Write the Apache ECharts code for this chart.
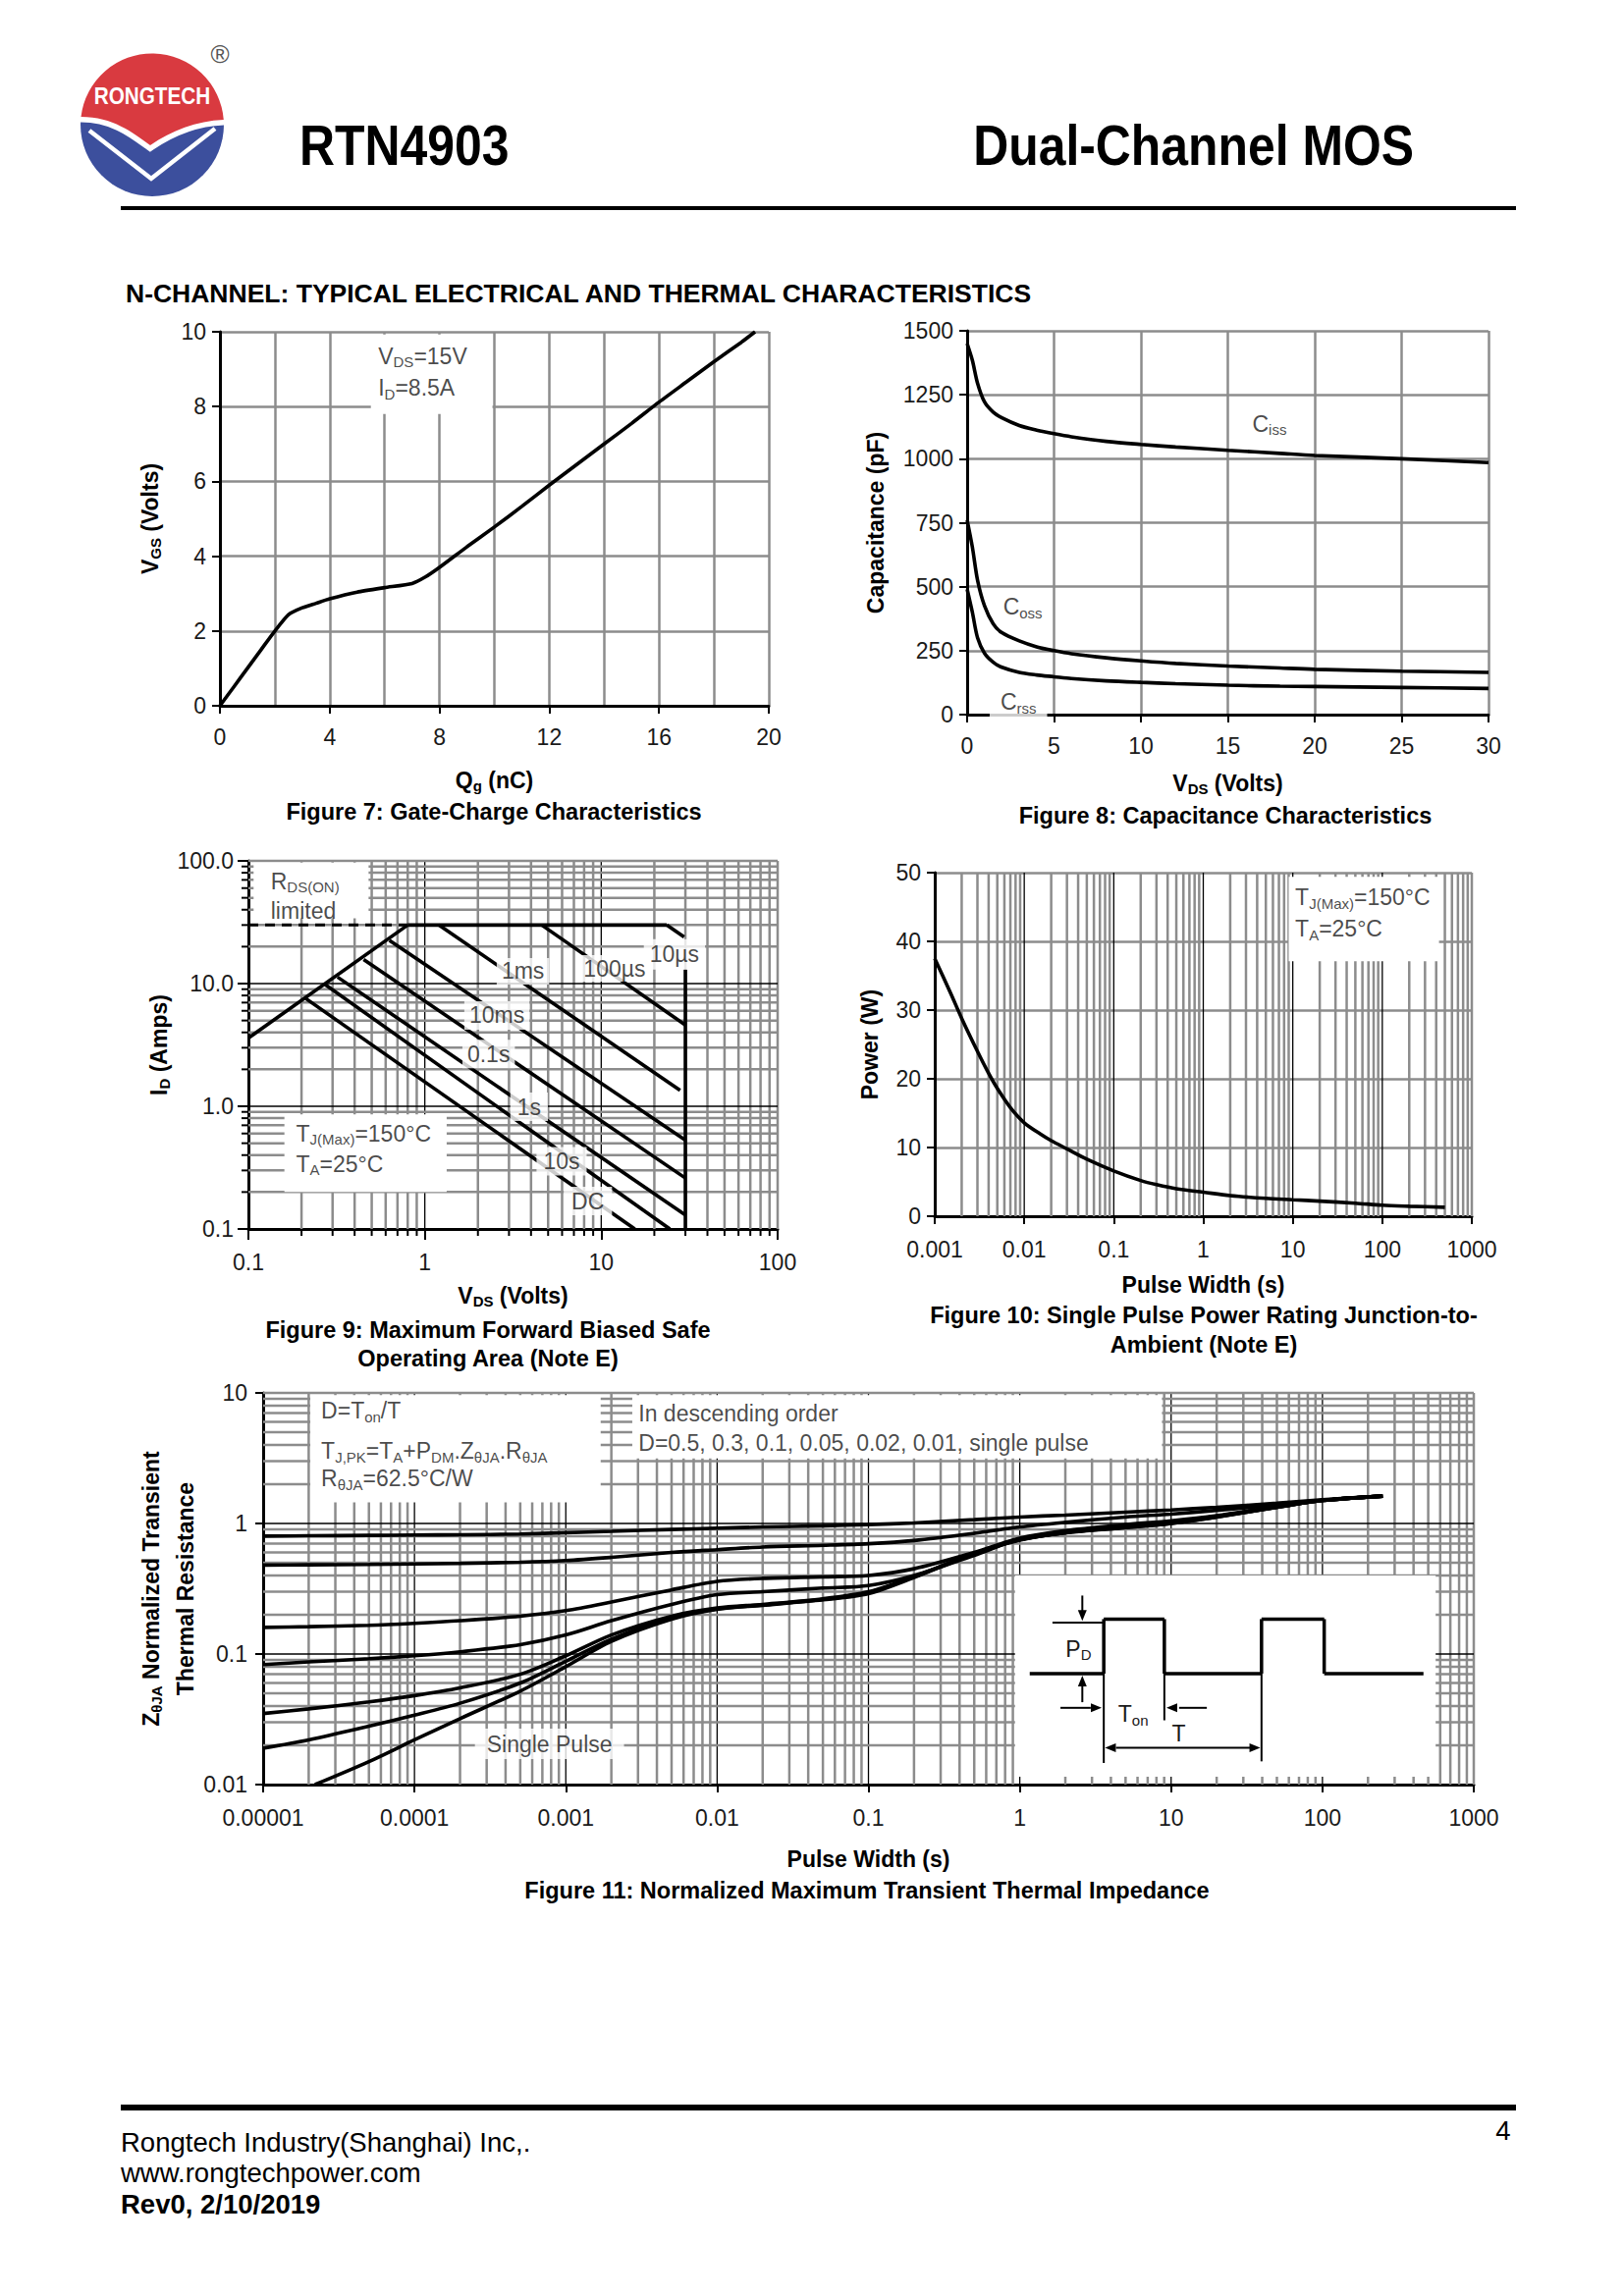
<!DOCTYPE html>
<html>
<head>
<meta charset="utf-8">
<script src="https://cdn.jsdelivr.net/npm/echarts@6/dist/echarts.min.js"></script>
<style>html,body{margin:0;padding:0;background:#fff}#c{width:1654px;height:2339px}#logo{position:absolute;left:0;top:0}</style>
</head>
<body>
<div id="c"></div>
<svg id="logo" width="260" height="220" viewBox="0 0 260 220" xmlns="http://www.w3.org/2000/svg">
  <g transform="translate(155,127)">
    <circle cx="0" cy="0" r="73" fill="#3c4f9d"/>
    <path d="M -72.5 -8 A 73 73 0 0 1 72.8 -5 C 45 -4 20 6 -2 21 C -20 8 -40 -8 -72.5 -8 Z" fill="none" stroke="#fff" stroke-width="11"/>
    <path d="M -72.5 -8 A 73 73 0 0 1 72.8 -5 C 45 -4 20 6 -2 21 C -20 8 -40 -8 -72.5 -8 Z" fill="#d93a40"/>
    <polyline points="-64,6 -1,55 64,4" fill="none" stroke="#fff" stroke-width="4.5"/>
    <text x="0" y="-27" transform="scale(0.9,1)" font-family="Liberation Sans, Arial, sans-serif" font-weight="bold" font-size="23" fill="#fff" text-anchor="middle" dominant-baseline="middle">RONGTECH</text>
  </g>
  <text x="224" y="57" font-family="Liberation Sans, Arial, sans-serif" font-size="26" fill="#555" text-anchor="middle" dominant-baseline="middle">®</text>
</svg>
<script>
// ---------------- DATA ----------------
// Figure 7: gate charge
const gateChargeQg  = [0,0.5,1,1.5,2,2.5,3,3.5,4,5,6,7,7.5,8,9,10,11,12,13,14,15,16,17,18,19,19.5];
const gateChargeVgs = [0,0.5,1.0,1.5,2.0,2.44,2.62,2.74,2.86,3.04,3.16,3.27,3.45,3.7,4.25,4.78,5.33,5.9,6.45,7.0,7.55,8.12,8.66,9.2,9.72,10.0];
// Figure 8: capacitance
const capVds  = [0,0.3,0.6,1,1.5,2,3,4,5,6,8,10,12,15,18,20,25,30];
const capCiss = [1450,1385,1295,1222,1182,1160,1130,1112,1098,1086,1068,1056,1046,1033,1021,1013,1000,985];
const capCoss = [760,655,525,425,355,320,288,265,250,238,222,210,200,190,182,177,170,165];
const capCrss = [490,400,300,240,205,185,165,155,148,141,132,126,121,115,111,110,106,102];
// Figure 9: SOA boundaries [VDS, ID]
const soaRdsOn        = [[0.1,3.6],[0.8,30]];
const soaRdsOnDashed  = [[0.1,30],[0.8,30]];
const soaCurrentLimit = [[0.8,30],[23.5,30]];
const soa10us  = [[23.5,30],[29.5,24]];
const soaBvdss = [[30,13],[30,0.1]];
const soa100us = [[4.6,30],[30,4.6]];
const soa1ms   = [[1.2,30],[28,1.35]];
const soa10ms  = [[0.63,22.5],[30,0.53]];
const soa100ms = [[0.45,15.7],[30,0.26]];
const soa1s    = [[0.32,11.3],[30,0.13]];
const soa10s   = [[0.27,9.9],[24.5,0.1]];
const soaDC    = [[0.21,7.6],[15.5,0.1]];
// Figure 10: single pulse power
const pulseWidth = [0.001,0.0015,0.002,0.003,0.004,0.005,0.007,0.01,0.015,0.02,0.03,0.05,0.1,0.2,0.3,0.5,1,2,5,10,20,50,100,200,500];
const pulsePower = [37.5,32.5,28.8,24.0,20.8,18.6,15.8,13.6,12.0,11.0,9.8,8.3,6.6,5.2,4.6,4.0,3.5,3.0,2.6,2.4,2.2,1.9,1.6,1.45,1.3];
// Figure 11: normalized transient thermal impedance
const zthT    = [1e-5,2e-5,5e-5,1e-4,2e-4,5e-4,1e-3,2e-3,5e-3,1e-2,2e-2,5e-2,0.1,0.2,0.5,1,2,5,10,20,50,100,250];
const zthD050 = [0.80,0.805,0.81,0.815,0.82,0.83,0.85,0.87,0.90,0.92,0.94,0.96,0.98,1.01,1.07,1.12,1.16,1.22,1.27,1.33,1.43,1.52,1.62];
const zthD030 = [0.48,0.482,0.485,0.49,0.495,0.505,0.52,0.55,0.60,0.63,0.66,0.68,0.70,0.74,0.84,0.94,1.02,1.12,1.18,1.26,1.39,1.51,1.62];
const zthD010 = [0.16,0.162,0.166,0.172,0.18,0.195,0.215,0.25,0.31,0.36,0.38,0.39,0.40,0.45,0.60,0.77,0.88,0.98,1.05,1.15,1.35,1.50,1.62];
const zthD005 = [0.083,0.087,0.092,0.097,0.104,0.118,0.14,0.18,0.24,0.285,0.30,0.32,0.335,0.40,0.57,0.76,0.87,0.96,1.03,1.14,1.34,1.50,1.62];
const zthD002 = [0.035,0.038,0.043,0.048,0.055,0.07,0.097,0.14,0.195,0.225,0.24,0.265,0.30,0.39,0.59,0.75,0.85,0.94,1.01,1.13,1.33,1.50,1.62];
const zthD001 = [0.019,0.022,0.028,0.034,0.042,0.06,0.088,0.13,0.19,0.222,0.238,0.262,0.295,0.39,0.59,0.75,0.85,0.93,1.0,1.12,1.33,1.50,1.62];
const zthSingleT = [2.2e-5,5e-5,1e-4,2e-4,5e-4,1e-3,2e-3,5e-3,1e-2,2e-2,5e-2,0.1,0.2,0.5,1,2,5,10,20,50,100,250];
const zthSingle  = [0.01,0.015,0.022,0.032,0.052,0.08,0.125,0.185,0.22,0.236,0.26,0.29,0.385,0.585,0.745,0.85,0.93,1.0,1.12,1.33,1.50,1.62];
// Tick labels for log axes
const soaVdsTicks = ['0.1','1','10','100'];
const soaIdTicks  = ['0.1','1.0','10.0','100.0'];
const pulseTicks  = ['0.001','0.01','0.1','1','10','100','1000'];
const zthTTicks   = ['0.00001','0.0001','0.001','0.01','0.1','1','10','100','1000'];
const zthYTicks   = ['0.01','0.1','1','10'];

// ---------------- HELPERS ----------------
const FONT = '"Liberation Sans", Arial, Helvetica, sans-serif';
const GRAY = '#8c8c8c';
const TXT = '#1a1a1a';
const zip = (xs, ys) => xs.map((x, i) => [x, ys[i]]);
function deepMerge(a, b) {
  const out = Object.assign({}, a);
  for (const k in b) {
    if (b[k] && typeof b[k] === 'object' && !Array.isArray(b[k]) && a[k] && typeof a[k] === 'object' && !Array.isArray(a[k])) out[k] = deepMerge(a[k], b[k]);
    else out[k] = b[k];
  }
  return out;
}
const NAME_RICH = {
  b:  {fontSize: 23, fontWeight: 'bold', fontFamily: FONT, color: '#000'},
  bs: {fontSize: 15, fontWeight: 'bold', fontFamily: FONT, color: '#000', padding: [12, 0, 0, 0]},
  b2: {fontSize: 23, fontWeight: 'bold', fontFamily: FONT, color: '#000', lineHeight: 35},
  bs2:{fontSize: 15, fontWeight: 'bold', fontFamily: FONT, color: '#000', lineHeight: 22, padding: [12, 0, 0, 0]}
};
const LAB_RICH = {
  n: {fontSize: 23, fontFamily: FONT, color: TXT},
  s: {fontSize: 15, fontFamily: FONT, color: TXT, padding: [12, 0, 0, 0]}
};
const AXIS_BASE = {
  axisLine: {show: true, onZero: false, lineStyle: {color: '#000', width: 3}},
  axisTick: {show: true, length: 8, lineStyle: {color: '#000', width: 2}},
  axisLabel: {fontSize: 23, color: TXT, fontFamily: FONT, showMinLabel: true, showMaxLabel: true},
  splitLine: {show: true, lineStyle: {color: GRAY, width: 2.5}},
  nameLocation: 'middle',
  nameTextStyle: {fontFamily: FONT, color: '#000', fontWeight: 'bold', fontSize: 23, rich: NAME_RICH},
  nameMoveOverlap: false
};
const ax = o => deepMerge(AXIS_BASE, o);
const logFmt = (labels, min) => v => labels[Math.round(Math.log10(v) - Math.log10(min))];
const plainFmt = v => String(v);

function logValues(min, max) {
  const out = [];
  const d0 = Math.round(Math.log10(min)), d1 = Math.round(Math.log10(max));
  for (let d = d0; d < d1; d++) {
    for (let k = 1; k < 10; k++) {
      if (k === 1 && d === d0) continue;
      out.push({v: Number((k * Math.pow(10, d)).toPrecision(3)), major: k === 1});
    }
  }
  out.push({v: max, major: false});
  return out;
}
// custom series that draws log grid lines (and optional minor ticks) through the axes' scales
function logGridSeries(idx, xr, yr, minorTicks) {
  const data = [];
  if (xr) logValues(xr[0], xr[1]).forEach(o => data.push([o.v, yr ? yr[0] : 1, o.major ? 1 : 0]));
  if (yr) logValues(yr[0], yr[1]).forEach(o => data.push([xr[0], o.v, o.major ? 3 : 2]));
  return {
    type: 'custom', xAxisIndex: idx, yAxisIndex: idx, z: 1, silent: true, encode: {x: 0, y: 1}, data,
    renderItem: (params, api) => {
      const cs = params.coordSys;
      const kind = api.value(2);
      const major = kind === 1 || kind === 3;
      const st = {stroke: major ? '#000' : GRAY, lineWidth: major ? 1.3 : 2.5};
      const ch = [];
      if (kind < 2) {
        const x = api.coord([api.value(0), yr ? yr[0] : 1])[0];
        ch.push({type: 'line', shape: {x1: x, y1: cs.y, x2: x, y2: cs.y + cs.height}, style: st});
        if (minorTicks && !major) ch.push({type: 'line', shape: {x1: x, y1: cs.y + cs.height, x2: x, y2: cs.y + cs.height + 7}, style: {stroke: '#000', lineWidth: 2}});
      } else {
        const y = api.coord([xr[0], api.value(1)])[1];
        ch.push({type: 'line', shape: {x1: cs.x, y1: y, x2: cs.x + cs.width, y2: y}, style: st});
        if (minorTicks && !major) ch.push({type: 'line', shape: {x1: cs.x, y1: y, x2: cs.x - 7, y2: y}, style: {stroke: '#000', lineWidth: 2}});
      }
      return {type: 'group', children: ch};
    }
  };
}
// white annotation boxes in data coordinates
function boxSeries(idx, boxes) {
  return {
    type: 'custom', xAxisIndex: idx, yAxisIndex: idx, z: 2, silent: true, encode: {x: [0, 2], y: [1, 3]}, data: boxes,
    renderItem: (params, api) => {
      const a = api.coord([api.value(0), api.value(1)]), b = api.coord([api.value(2), api.value(3)]);
      return {type: 'rect', shape: {x: Math.min(a[0], b[0]), y: Math.min(a[1], b[1]), width: Math.abs(b[0] - a[0]), height: Math.abs(b[1] - a[1])}, style: {fill: '#fff'}};
    }
  };
}
function curve(idx, data, extra) {
  return Object.assign({
    type: 'line', xAxisIndex: idx, yAxisIndex: idx, data, symbol: 'none', showSymbol: false,
    smooth: 0.3, silent: true, z: 3,
    lineStyle: {color: '#000', width: 3.6}
  }, extra || {});
}
function labels(idx, items, z) {
  return {
    type: 'scatter', xAxisIndex: idx, yAxisIndex: idx, symbolSize: 1, silent: true, z: z || 4,
    itemStyle: {color: 'rgba(0,0,0,0)'},
    label: {show: true, distance: 0, color: TXT, fontFamily: FONT, fontSize: 23, rich: LAB_RICH},
    data: items
  };
}
const L = (x, y, text, pos, bg) => ({value: [x, y], label: Object.assign({formatter: text, position: pos || 'right'}, bg ? {backgroundColor: '#fff', padding: bg} : {})});

// Inset pulse diagram (fig 11)
function insetSeries(idx, box) {
  return {
    type: 'custom', xAxisIndex: idx, yAxisIndex: idx, z: 2, silent: true, encode: {x: [0, 2], y: [1, 3]}, data: [box],
    renderItem: (params, api) => {
      const a = api.coord([api.value(0), api.value(1)]), b = api.coord([api.value(2), api.value(3)]);
      const X = a[0], Y = a[1], W = b[0] - a[0], H = b[1] - a[1];
      const px = f => X + f * W, py = g => Y + g * H;
      const thick = {stroke: '#000', lineWidth: 3.5}, thin = {stroke: '#000', lineWidth: 2};
      const ln = (x1, y1, x2, y2, st) => ({type: 'line', shape: {x1: px(x1), y1: py(y1), x2: px(x2), y2: py(y2)}, style: st});
      const head = (x, y, dir) => {
        const tx = px(x), ty = py(y), s = 11, w = 4.5;
        const pts = dir === 'down' ? [[tx, ty], [tx - w, ty - s], [tx + w, ty - s]]
          : dir === 'up' ? [[tx, ty], [tx - w, ty + s], [tx + w, ty + s]]
          : dir === 'right' ? [[tx, ty], [tx - s, ty - w], [tx - s, ty + w]]
          : [[tx, ty], [tx + s, ty - w], [tx + s, ty + w]];
        return {type: 'polygon', shape: {points: pts}, style: {fill: '#000'}};
      };
      const txt = (x, y, t) => ({type: 'text', style: {text: t, x: px(x), y: py(y), align: 'center', verticalAlign: 'middle', rich: LAB_RICH, fontFamily: FONT, fontSize: 23, fill: TXT}});
      return {type: 'group', children: [
        {type: 'rect', shape: {x: X, y: Y, width: W, height: H}, style: {fill: '#fff'}},
        ln(0.089, 0.234, 0.211, 0.234, thin),
        ln(0.035, 0.488, 0.211, 0.488, thick),
        ln(0.211, 0.217, 0.211, 0.488, thick), ln(0.211, 0.488, 0.211, 0.932, thin),
        ln(0.211, 0.217, 0.355, 0.217, thick),
        ln(0.355, 0.217, 0.355, 0.488, thick), ln(0.355, 0.488, 0.355, 0.72, thin),
        ln(0.355, 0.488, 0.586, 0.488, thick),
        ln(0.586, 0.217, 0.586, 0.488, thick), ln(0.586, 0.488, 0.586, 0.924, thin),
        ln(0.586, 0.217, 0.735, 0.217, thick),
        ln(0.735, 0.217, 0.735, 0.488, thick),
        ln(0.735, 0.488, 0.971, 0.488, thick),
        ln(0.16, 0.10, 0.16, 0.18, thin), head(0.16, 0.226, 'down'),
        ln(0.16, 0.63, 0.16, 0.55, thin), head(0.16, 0.498, 'up'),
        ln(0.108, 0.658, 0.18, 0.658, thin), head(0.206, 0.658, 'right'),
        ln(0.456, 0.658, 0.39, 0.658, thin), head(0.36, 0.658, 'left'),
        ln(0.24, 0.856, 0.56, 0.856, thin), head(0.214, 0.856, 'left'), head(0.583, 0.856, 'right'),
        txt(0.151, 0.364, '{n|P}{s|D}'),
        txt(0.281, 0.69, '{n|T}{s|on}'),
        txt(0.389, 0.785, '{n|T}')
      ]};
    }
  };
}

// ---------------- OPTION ----------------
const option = {
  animation: false,
  backgroundColor: '#fff',
  textStyle: {fontFamily: FONT},
  grid: [
    {left: 224, top: 338, width: 559, height: 381},
    {left: 985, top: 337, width: 531, height: 391},
    {left: 253, top: 877, width: 539, height: 375},
    {left: 952, top: 889, width: 547, height: 350},
    {left: 268, top: 1419, width: 1233, height: 399}
  ],
  xAxis: [
    ax({gridIndex: 0, type: 'value', min: 0, max: 20, interval: 4,
        minorTick: {show: false, splitNumber: 2}, minorSplitLine: {show: true, lineStyle: {color: GRAY, width: 2.5}},
        axisLabel: {margin: 20, formatter: plainFmt}, name: '{b|Q}{bs|g}{b| (nC)}', nameGap: 62}),
    ax({gridIndex: 1, type: 'value', min: 0, max: 30, interval: 5,
        axisLabel: {margin: 20, formatter: plainFmt}, name: '{b|V}{bs|DS}{b| (Volts)}', nameGap: 56}),
    ax({gridIndex: 2, type: 'log', logBase: 10, min: 0.1, max: 100, splitNumber: 10, splitLine: {show: false},
        axisTick: {length: 11}, axisLabel: {margin: 22, formatter: logFmt(soaVdsTicks, 0.1)},
        name: '{b|V}{bs|DS}{b| (Volts)}', nameGap: 54}),
    ax({gridIndex: 3, type: 'log', logBase: 10, min: 0.001, max: 1000, splitNumber: 10, splitLine: {show: false},
        axisLabel: {margin: 22, formatter: logFmt(pulseTicks, 0.001)}, name: 'Pulse Width (s)', nameGap: 58}),
    ax({gridIndex: 4, type: 'log', logBase: 10, min: 1e-5, max: 1000, splitNumber: 10, splitLine: {show: false},
        axisLabel: {margin: 22, formatter: logFmt(zthTTicks, 1e-5)}, name: 'Pulse Width (s)', nameGap: 64})
  ],
  yAxis: [
    ax({gridIndex: 0, type: 'value', min: 0, max: 10, interval: 2, axisLabel: {margin: 14, formatter: plainFmt},
        name: '{b|V}{bs|GS}{b| (Volts)}', nameGap: 58}),
    ax({gridIndex: 1, type: 'value', min: 0, max: 1500, interval: 250, axisLabel: {margin: 14, formatter: plainFmt},
        name: 'Capacitance (pF)', nameGap: 82}),
    ax({gridIndex: 2, type: 'log', logBase: 10, min: 0.1, max: 100, splitNumber: 10, splitLine: {show: false},
        axisTick: {length: 11}, axisLabel: {margin: 15, formatter: logFmt(soaIdTicks, 0.1)},
        name: '{b|I}{bs|D}{b| (Amps)}', nameGap: 78}),
    ax({gridIndex: 3, type: 'value', min: 0, max: 50, interval: 10, axisLabel: {margin: 14, formatter: plainFmt},
        name: 'Power (W)', nameGap: 55}),
    ax({gridIndex: 4, type: 'log', logBase: 10, min: 0.01, max: 10, splitNumber: 10, splitLine: {show: false},
        axisLabel: {margin: 16, formatter: logFmt(zthYTicks, 0.01)},
        name: '{b2|Z}{bs2|θJA}{b2| Normalized Transient}\n{b2|Thermal Resistance}', nameGap: 62})
  ],
  series: [
    // ---- Figure 7
    boxSeries(0, [[5.5, 9.93, 9.93, 7.8]]),
    curve(0, zip(gateChargeQg, gateChargeVgs), {smooth: 0.2}),
    labels(0, [L(5.75, 9.35, '{n|V}{s|DS}{n|=15V}'), L(5.75, 8.5, '{n|I}{s|D}{n|=8.5A}')]),
    // ---- Figure 8
    curve(1, zip(capVds, capCiss)),
    curve(1, zip(capVds, capCoss)),
    curve(1, zip(capVds, capCrss)),
    labels(1, [L(17.4, 1136, '{n|C}{s|iss}', 'inside'), L(3.2, 421, '{n|C}{s|oss}', 'inside'),
               L(2.95, 48, '{n|C}{s|rss}', 'inside', [2, 11])]),
    // ---- Figure 9
    logGridSeries(2, [0.1, 100], [0.1, 100], true),
    boxSeries(2, [[0.107, 97, 0.48, 34], [0.16, 0.86, 1.33, 0.2]]),
    curve(2, soaRdsOn, {smooth: false}),
    curve(2, soaRdsOnDashed, {smooth: false, lineStyle: {color: '#000', width: 3, type: [10, 7]}}),
    curve(2, soaCurrentLimit, {smooth: false}),
    curve(2, soa10us, {smooth: false}),
    curve(2, soaBvdss, {smooth: false}),
    curve(2, soa100us, {smooth: false}),
    curve(2, soa1ms, {smooth: false}),
    curve(2, soa10ms, {smooth: false}),
    curve(2, soa100ms, {smooth: false}),
    curve(2, soa1s, {smooth: false}),
    curve(2, soa10s, {smooth: false}),
    curve(2, soaDC, {smooth: false}),
    labels(2, [
      L(0.133, 68, '{n|R}{s|DS(ON)}'), L(0.133, 39, '{n|limited}'),
      L(0.185, 0.6, '{n|T}{s|J(Max)}{n|=150°C}'), L(0.185, 0.34, '{n|T}{s|A}{n|=25°C}'),
      L(3.6, 12.6, '1ms', 'inside', [2, 5]), L(11.9, 13.3, '100µs', 'inside', [2, 5]),
      L(26, 17.3, '10µs', 'inside', [4, 6]), L(2.56, 5.5, '10ms', 'inside', [3, 5]),
      L(2.3, 2.67, '0.1s', 'inside', [3, 5]), L(3.9, 0.99, '1s', 'inside', [3, 7]),
      L(5.96, 0.356, '10s', 'inside', [3, 7]), L(8.4, 0.169, 'DC', 'inside', [3, 8])
    ]),
    // ---- Figure 10
    logGridSeries(3, [0.001, 1000], null, false),
    boxSeries(3, [[9.0, 49.4, 430, 37.1]]),
    curve(3, zip(pulseWidth, pulsePower)),
    labels(3, [L(10.5, 46.4, '{n|T}{s|J(Max)}{n|=150°C}'), L(10.5, 41.8, '{n|T}{s|A}{n|=25°C}')]),
    // ---- Figure 11
    logGridSeries(4, [1e-5, 1000], [0.01, 10], false),
    boxSeries(4, [[2.05e-5, 9.6, 0.0017, 1.45], [0.00275, 9.6, 8.7, 3.15]]),
    insetSeries(4, [0.93, 0.40, 560, 0.0115]),
    curve(4, zip(zthT, zthD050)),
    curve(4, zip(zthT, zthD030)),
    curve(4, zip(zthT, zthD010)),
    curve(4, zip(zthT, zthD005)),
    curve(4, zip(zthT, zthD002)),
    curve(4, zip(zthT, zthD001)),
    curve(4, zip(zthSingleT, zthSingle)),
    labels(4, [
      L(2.4e-5, 7.3, '{n|D=T}{s|on}{n|/T}'),
      L(2.4e-5, 3.6, '{n|T}{s|J,PK}{n|=T}{s|A}{n|+P}{s|DM}{n|.Z}{s|θJA}{n|.R}{s|θJA}'),
      L(2.4e-5, 2.2, '{n|R}{s|θJA}{n|=62.5°C/W}'),
      L(0.003, 6.9, '{n|In descending order}'),
      L(0.003, 4.1, '{n|D=0.5, 0.3, 0.1, 0.05, 0.02, 0.01, single pulse}'),
      L(7.8e-4, 0.0205, 'Single Pulse', 'inside', [4, 12])
    ], 5)
  ],
  graphic: [
    {type: 'text', x: 305, y: 148, scaleX: 0.86, style: {text: 'RTN4903', fontSize: 58, fontWeight: 'bold', fontFamily: FONT, fill: '#000', align: 'left', verticalAlign: 'middle'}},
    {type: 'text', x: 1440, y: 148, scaleX: 0.86, style: {text: 'Dual-Channel MOS', fontSize: 58, fontWeight: 'bold', fontFamily: FONT, fill: '#000', align: 'right', verticalAlign: 'middle'}},
    {type: 'rect', shape: {x: 123, y: 210, width: 1421, height: 4}, style: {fill: '#000'}},
    {type: 'text', x: 128, y: 299, style: {text: 'N-CHANNEL: TYPICAL ELECTRICAL AND THERMAL CHARACTERISTICS', fontSize: 26.5, fontWeight: 'bold', fontFamily: FONT, fill: '#000', align: 'left', verticalAlign: 'middle'}},
    // captions
    {type: 'text', x: 503, y: 827, style: {text: 'Figure 7: Gate-Charge Characteristics', fontSize: 23.5, fontWeight: 'bold', fontFamily: FONT, fill: '#000', align: 'center', verticalAlign: 'middle'}},
    {type: 'text', x: 1248, y: 831, style: {text: 'Figure 8: Capacitance Characteristics', fontSize: 23.5, fontWeight: 'bold', fontFamily: FONT, fill: '#000', align: 'center', verticalAlign: 'middle'}},
    {type: 'text', x: 497, y: 1355, style: {text: 'Figure 9: Maximum Forward Biased Safe', fontSize: 23.5, fontWeight: 'bold', fontFamily: FONT, fill: '#000', align: 'center', verticalAlign: 'middle'}},
    {type: 'text', x: 497, y: 1384, style: {text: 'Operating Area (Note E)', fontSize: 23.5, fontWeight: 'bold', fontFamily: FONT, fill: '#000', align: 'center', verticalAlign: 'middle'}},
    {type: 'text', x: 1226, y: 1340, style: {text: 'Figure 10: Single Pulse Power Rating Junction-to-', fontSize: 23.5, fontWeight: 'bold', fontFamily: FONT, fill: '#000', align: 'center', verticalAlign: 'middle'}},
    {type: 'text', x: 1226, y: 1370, style: {text: 'Ambient (Note E)', fontSize: 23.5, fontWeight: 'bold', fontFamily: FONT, fill: '#000', align: 'center', verticalAlign: 'middle'}},
    {type: 'text', x: 883, y: 1926, style: {text: 'Figure 11: Normalized Maximum Transient Thermal Impedance', fontSize: 23.5, fontWeight: 'bold', fontFamily: FONT, fill: '#000', align: 'center', verticalAlign: 'middle'}},
    // footer
    {type: 'rect', shape: {x: 123, y: 2144, width: 1421, height: 6}, style: {fill: '#000'}},
    {type: 'text', x: 123, y: 2182, style: {text: 'Rongtech Industry(Shanghai) Inc,.', fontSize: 27.5, fontFamily: FONT, fill: '#000', align: 'left', verticalAlign: 'middle'}},
    {type: 'text', x: 123, y: 2213, style: {text: 'www.rongtechpower.com', fontSize: 27.5, fontFamily: FONT, fill: '#000', align: 'left', verticalAlign: 'middle'}},
    {type: 'text', x: 123, y: 2245, style: {text: 'Rev0, 2/10/2019', fontSize: 27.5, fontWeight: 'bold', fontFamily: FONT, fill: '#000', align: 'left', verticalAlign: 'middle'}},
    {type: 'text', x: 1531, y: 2170, style: {text: '4', fontSize: 27.5, fontFamily: FONT, fill: '#000', align: 'center', verticalAlign: 'middle'}}
  ]
};
const chart = echarts.init(document.getElementById('c'), null, {renderer: 'svg', width: 1654, height: 2339});
chart.setOption(option);
</script>
</body>
</html>
